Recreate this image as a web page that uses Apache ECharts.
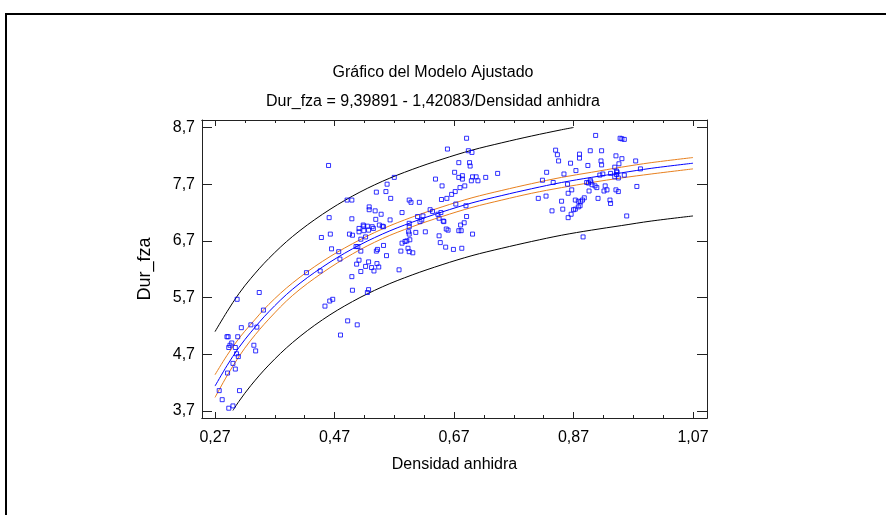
<!DOCTYPE html>
<html>
<head>
<meta charset="utf-8">
<script src="https://cdn.jsdelivr.net/npm/echarts@6/dist/echarts.min.js"></script>
<style>
html,body{margin:0;padding:0;background:#fff;}
#chart{width:886px;height:515px;}
</style>
</head>
<body>
<div id="chart"></div>
<script>
// ---- data ----
const xTickLabels = [0.27, 0.47, 0.67, 0.87, 1.07];
const xMinorTicks = [0.27,0.32,0.37,0.42,0.47,0.52,0.57,0.62,0.67,0.72,0.77,0.82,0.87,0.92,0.97,1.02,1.07];
const yTickLabels = [3.7, 4.7, 5.7, 6.7, 7.7, 8.7];

// fitted model line
const xFit = [0.27,0.29,0.31,0.33,0.36,0.40,0.45,0.50,0.55,0.60,0.65,0.70,0.75,0.80,0.85,0.90,0.95,1.00,1.07];
const yFit = [4.14,4.50,4.82,5.09,5.45,5.85,6.24,6.56,6.82,7.03,7.21,7.37,7.50,7.62,7.73,7.82,7.90,7.98,8.07];
// confidence limits (orange)
const yConfUpper = [4.34,4.68,4.98,5.23,5.58,5.96,6.34,6.65,6.91,7.12,7.30,7.46,7.59,7.71,7.82,7.91,8.00,8.08,8.17];
const yConfLower = [3.94,4.32,4.66,4.95,5.32,5.74,6.14,6.47,6.74,6.95,7.13,7.29,7.42,7.54,7.64,7.73,7.81,7.88,7.97];
// prediction limits (black)
const xPredUpper = [0.27,0.29,0.31,0.33,0.36,0.40,0.45,0.50,0.55,0.60,0.65,0.70,0.75,0.80,0.85,0.87];
const yPredUpper = [5.10,5.45,5.77,6.04,6.39,6.78,7.17,7.49,7.75,7.96,8.14,8.30,8.43,8.55,8.66,8.70];
const xPredLower = [0.30,0.31,0.33,0.36,0.40,0.45,0.50,0.55,0.60,0.65,0.70,0.75,0.80,0.85,0.90,0.95,1.00,1.07];
const yPredLower = [3.71,3.87,4.15,4.51,4.91,5.31,5.63,5.89,6.10,6.28,6.44,6.57,6.69,6.80,6.89,6.97,7.05,7.14];

// observations [Densidad anhidra, Dur_fza]
const puntosBajos = [
 [0.277,4.06],[0.282,3.90],[0.293,3.75],[0.300,3.79],[0.311,4.06],[0.291,4.37],[0.300,4.54],[0.304,4.44],
 [0.298,4.90],[0.295,4.86],[0.293,4.82],[0.304,4.82],[0.306,4.71],[0.309,4.66],[0.290,5.01],[0.292,5.01],
 [0.308,5.01],[0.314,5.17],[0.307,5.67],[0.330,5.22],[0.335,4.86],[0.338,4.76],[0.340,5.18],[0.344,5.79],
 [0.351,5.48]
];
const puntosMedios = [
 [0.423,6.14],[0.446,6.17],[0.448,6.76],[0.454,5.55],[0.460,8.03],[0.461,7.11],[0.463,6.82],[0.462,5.64],
 [0.467,5.67],[0.465,6.56],[0.477,6.51],[0.479,6.38],[0.480,5.04],[0.491,7.42],[0.499,7.42],[0.492,5.29],
 [0.499,7.09],[0.495,6.82],[0.500,6.80],[0.499,6.07],[0.500,5.83],[0.506,6.60],[0.509,6.60],[0.507,6.29],
 [0.511,6.36],[0.514,6.16],[0.508,5.22],[0.511,6.92],[0.511,6.86],[0.514,6.73],[0.514,6.52],
 [0.519,6.96],[0.527,6.89],[0.519,6.88],[0.528,7.25],[0.528,7.30],[0.522,6.77],[0.527,6.33],
 [0.525,5.79],[0.527,5.84],[0.532,6.23],[0.536,6.17],[0.544,6.24],[0.578,6.19],[0.541,6.30],[0.522,6.25],
 [0.691,8.51],[0.659,8.32],[0.694,8.29],[0.700,8.26],[0.678,8.08],[0.696,8.08],[0.697,8.02],[0.671,7.91],
 [0.570,7.82],[0.558,7.70],[0.678,7.82],[0.684,7.85],[0.684,7.79],[0.701,7.83],[0.707,7.83],[0.699,7.76],
 [0.710,7.76],[0.723,7.82],[0.743,7.89],[0.639,7.79],[0.650,7.67],[0.680,7.64],[0.688,7.67],[0.540,7.56],
 [0.556,7.57],[0.564,7.45],[0.672,7.57],[0.666,7.52],[0.658,7.45],[0.649,7.43],[0.595,7.42],[0.598,7.38],
 [0.612,7.38],[0.673,7.35],[0.690,7.32],[0.538,7.23],[0.548,7.17],[0.583,7.20],[0.630,7.25],[0.634,7.22],
 [0.648,7.20],[0.609,7.13],[0.618,7.14],[0.616,7.07],[0.613,7.04],[0.643,7.17],[0.645,7.10],[0.652,7.05],
 [0.653,7.04],[0.691,7.13],[0.563,7.07],[0.539,7.08],[0.518,6.98],[0.525,6.96],[0.533,6.95],[0.535,6.92],
 [0.545,6.98],[0.550,6.96],[0.552,6.95],[0.595,7.01],[0.595,6.95],[0.687,7.02],[0.681,6.98],[0.657,6.91],
 [0.660,6.89],[0.678,6.88],[0.682,6.88],[0.701,6.82],[0.594,6.86],[0.595,6.82],[0.606,6.85],[0.622,6.86],
 [0.645,6.79],[0.583,6.66],[0.588,6.69],[0.591,6.70],[0.647,6.67],[0.596,6.72],[0.540,6.52],[0.542,6.55],
 [0.552,6.62],[0.581,6.52],[0.593,6.57],[0.595,6.51],[0.601,6.49],[0.656,6.59],[0.669,6.55],[0.683,6.57],
 [0.557,6.44]
];
const puntosAltos = [
 [0.907,8.56],[0.948,8.51],[0.951,8.50],[0.955,8.49],[0.840,8.30],[0.843,8.22],[0.845,8.11],[0.880,8.23],
 [0.880,8.16],[0.898,8.29],[0.917,8.29],[0.941,8.20],[0.951,8.15],[0.916,8.11],[0.917,8.04],[0.865,8.07],
 [0.974,8.11],[0.946,8.06],[0.874,7.94],[0.939,8.00],[0.942,7.93],[0.894,8.03],[0.982,7.97],[0.825,7.91],
 [0.854,7.88],[0.932,7.89],[0.939,7.83],[0.942,7.87],[0.945,7.81],[0.943,7.91],[0.955,7.86],[0.914,7.86],
 [0.919,7.88],[0.818,7.77],[0.836,7.73],[0.860,7.70],[0.898,7.77],[0.899,7.74],[0.895,7.72],[0.892,7.73],
 [0.901,7.69],[0.906,7.67],[0.909,7.64],[0.923,7.67],[0.926,7.60],[0.921,7.58],[0.941,7.60],[0.945,7.57],
 [0.976,7.66],[0.867,7.60],[0.861,7.54],[0.896,7.58],[0.888,7.46],[0.885,7.42],[0.882,7.39],[0.811,7.45],
 [0.824,7.49],[0.850,7.40],[0.911,7.45],[0.931,7.42],[0.932,7.36],[0.852,7.26],[0.834,7.23],[0.870,7.25],
 [0.873,7.26],[0.878,7.30],[0.881,7.32],[0.866,7.17],[0.861,7.11],[0.959,7.14],[0.886,6.77],[0.873,7.42],
 [0.878,7.40]
];

// ---- chart ----
const FONT = '"Liberation Sans", Arial, sans-serif';
const zip = (xs, ys) => xs.map((x, i) => [x, ys[i]]);
const fmtX = v => Number(v).toFixed(2).replace('.', ',');
const fmtY = v => Number(v).toFixed(1).replace('.', ',');
const XMIN = 0.2482, XMAX = 1.0934, YMIN = 3.577, YMAX = 8.832;
const axisCol = '#222';

function xAx(pos, ticks, len, labels) {
  return {
    type: 'value', position: pos, min: XMIN, max: XMAX,
    axisLine: { show: true, onZero: false, lineStyle: { color: axisCol, width: 1 } },
    axisTick: { show: true, inside: true, length: len, customValues: ticks, lineStyle: { color: axisCol, width: 1 } },
    axisLabel: labels ? { show: true, customValues: ticks, formatter: fmtX, fontFamily: FONT, fontSize: 16, color: '#000', margin: 12 } : { show: false },
    splitLine: { show: false },
    name: labels ? 'Densidad anhidra' : '', nameLocation: 'middle', nameGap: 39,
    nameTextStyle: { fontFamily: FONT, fontSize: 16, color: '#000' }
  };
}
function yAx(pos, labels) {
  return {
    type: 'value', position: pos, min: YMIN, max: YMAX,
    axisLine: { show: true, onZero: false, lineStyle: { color: axisCol, width: 1 } },
    axisTick: { show: true, inside: true, length: 10, customValues: yTickLabels, lineStyle: { color: axisCol, width: 1 } },
    axisLabel: labels ? { show: true, customValues: yTickLabels, formatter: fmtY, fontFamily: FONT, fontSize: 16, color: '#000', margin: 7 } : { show: false },
    splitLine: { show: false },
    name: labels ? 'Dur_fza' : '', nameLocation: 'middle', nameGap: 48,
    nameTextStyle: { fontFamily: FONT, fontSize: 18, color: '#000' }
  };
}
const lineS = (data, color) => ({
  type: 'line', data: data, xAxisIndex: 0, yAxisIndex: 0, symbol: 'none', showSymbol: false,
  smooth: 0.35, lineStyle: { color: color, width: 1 }, silent: true, z: 2
});

const chart = echarts.init(document.getElementById('chart'), null, { renderer: 'canvas' });
chart.setOption({
  animation: false,
  backgroundColor: '#fff',
  grid: { left: 202, top: 120, width: 505, height: 298, containLabel: false },
  xAxis: [
    xAx('bottom', xTickLabels, 6, true),
    xAx('bottom', xMinorTicks, 3, false),
    xAx('top', xTickLabels, 6, false),
    xAx('top', xMinorTicks, 3, false)
  ],
  yAxis: [ yAx('left', true), yAx('right', false) ],
  graphic: [
    { type: 'rect', shape: { x: 5, y: 13, width: 881, height: 2 }, style: { fill: '#000' } },
    { type: 'rect', shape: { x: 5, y: 13, width: 2, height: 502 }, style: { fill: '#000' } },
    { type: 'text', x: 433, y: 73, style: { text: 'Gráfico del Modelo Ajustado', fontFamily: FONT, fontSize: 16, fill: '#000', align: 'center', verticalAlign: 'middle' } },
    { type: 'text', x: 433, y: 102, style: { text: 'Dur_fza = 9,39891 - 1,42083/Densidad anhidra', fontFamily: FONT, fontSize: 16, fill: '#000', align: 'center', verticalAlign: 'middle' } }
  ],
  series: [
    lineS(zip(xPredUpper, yPredUpper), '#000'),
    lineS(zip(xPredLower, yPredLower), '#000'),
    lineS(zip(xFit, yConfUpper), '#e8801e'),
    lineS(zip(xFit, yConfLower), '#e8801e'),
    lineS(zip(xFit, yFit), '#0000ff'),
    {
      type: 'scatter', xAxisIndex: 0, yAxisIndex: 0,
      data: puntosBajos.concat(puntosMedios, puntosAltos),
      symbol: 'rect', symbolSize: 4,
      itemStyle: { color: 'rgba(255,255,255,0)', borderColor: '#0000ff', borderWidth: 1 },
      z: 3, silent: true
    }
  ]
});
</script>
</body>
</html>
